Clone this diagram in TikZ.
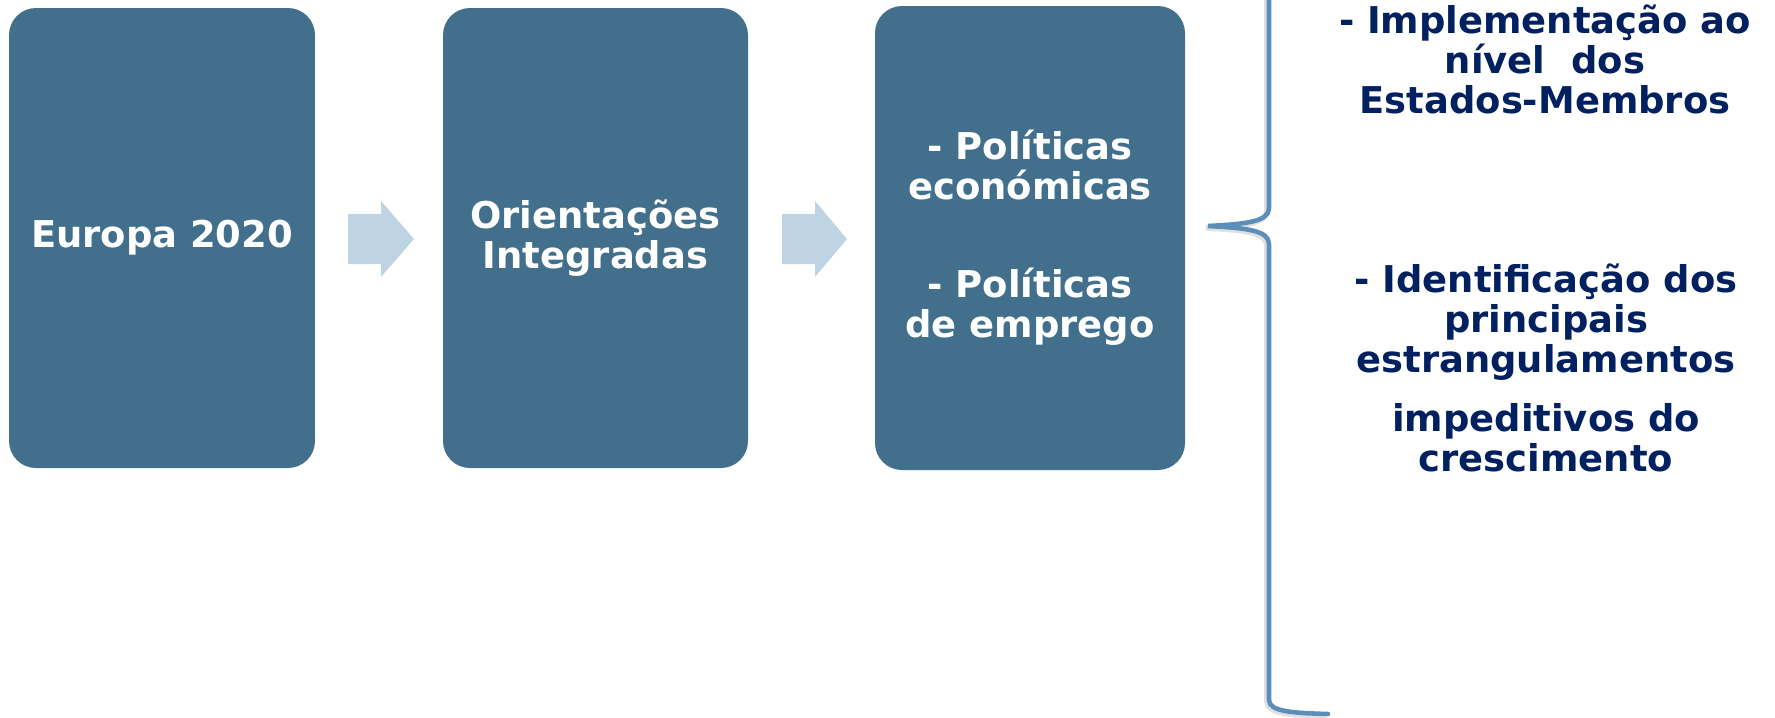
\documentclass[tikz,border=0pt]{standalone}
\usepackage{fontspec}
\setmainfont{DejaVu Sans}
\usetikzlibrary{calc}
\definecolor{corcaixa}{RGB}{65,111,140}
\definecolor{corseta}{RGB}{191,212,226}
\definecolor{corchaveta}{RGB}{91,143,185}
\definecolor{azulescuro}{RGB}{0,32,96}

\begin{document}
\begin{tikzpicture}[x=0.1mm, y=-0.1mm,
  caixa/.style={rectangle, rounded corners=2.7mm, fill=corcaixa, text=white, align=center, inner sep=0pt, font=\fontsize{10.5pt}{11.4pt}\selectfont\bfseries},
  seta/.style={fill=corseta},
  chaveta/.style={draw=corchaveta, line width=1.3pt, line cap=round, preaction={draw=black!12, line width=1.6pt, transform canvas={shift={(-2,2)}}}},
  nota/.style={text=azulescuro, align=center, inner sep=0pt, font=\fontsize{10.5pt}{11.4pt}\selectfont\bfseries}]
\useasboundingbox (0,0) rectangle (1775,717);
% Caixas
\node [caixa, minimum width=30.6mm, minimum height=46mm] (europa) at (162,238) {Europa 2020};
\node [caixa, minimum width=30.5mm, minimum height=46mm] (orient) at (595.5,238) {Orientações\\Integradas};
\node [caixa, minimum width=31mm, minimum height=46.4mm] (polit) at (1030,238) {- Políticas\\económicas\\[16.5pt]- Políticas\\de emprego};
% Setas
\fill [seta] (348,214) -- (381,214) -- (381,201) -- (414,239) -- (381,277) -- (381,264) -- (348,264) -- cycle;
\fill [seta] (782,214) -- (815,214) -- (815,201) -- (847,239) -- (815,277) -- (815,264) -- (782,264) -- cycle;
% Chaveta
\path [chaveta] (1269,-20) -- (1269,208) .. controls (1269,222) and (1245,224) .. (1208,226)
  .. controls (1245,228) and (1269,230) .. (1269,244) -- (1269,700)
  .. controls (1269,712) and (1295,713) .. (1328,714);
% Texto
\node [nota] (implem) at (1545,59) {- Implementação ao\\nível~ dos\\Estados-Membros};
\node [nota] (ident) at (1546,368) {- Identificação dos\\principais\\estrangulamentos\\[5.4pt]impeditivos do\\crescimento};
\end{tikzpicture}
\end{document}
